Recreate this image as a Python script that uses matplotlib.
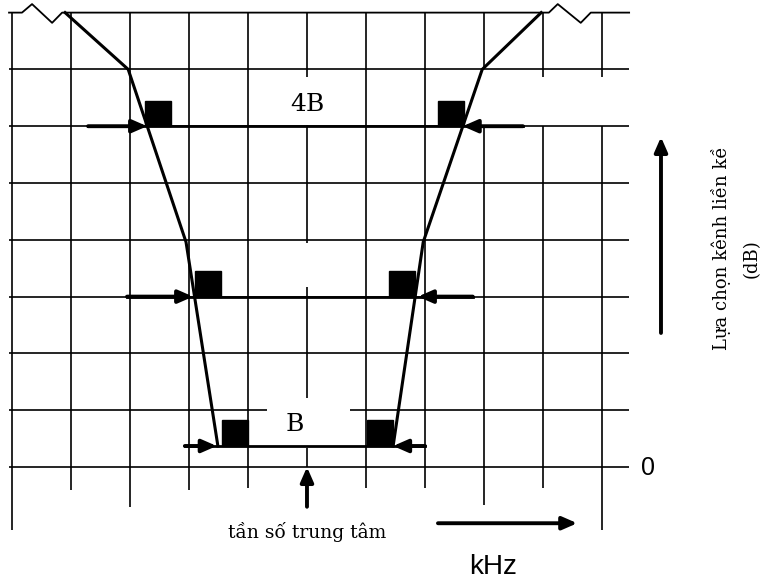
import matplotlib
matplotlib.use("Agg")
import matplotlib.pyplot as plt

# grid: columns are frequency steps from the centre, rows are attenuation steps
col_pos = [-5, -4, -3, -2, -1, 1, 2, 3, 4, 5]
col_bottom = [-1.11, -0.40, -0.70, -0.40, -0.37, -0.37, -0.37, -0.67, -0.37, -1.11]
col_top_gap = {3: (7.0, 6.0), 4: (6.87, 6.0), 5: (6.87, 6.0)}
row_pos = [0, 1, 2, 3, 4, 5, 6, 7]
centre_segments = [(8.0, 6.87), (6.02, 3.94), (3.17, 1.21), (0.33, 0.0)]

# top line with the two ripple zigzags
top_x = [-5.05, -4.83, -4.66, -4.32, -4.15, 4.10, 4.25, 4.64, 4.81, 5.46]
top_y = [8.0, 8.0, 8.15, 7.82, 8.0, 8.0, 8.15, 7.82, 8.0, 8.0]

# filter mask (left and right skirts)
mask_y = [8.0, 7.0, 3.96, 0.37]
mask_left_x = [-4.10, -3.03, -2.05, -1.51]
mask_right_x = [3.97, 2.97, 1.97, 1.46]

# measurement levels: level, left arrow tail, left tip, right tip, right arrow tail
levels = [6.0, 3.0, 0.37]
left_tail = [-3.71, -3.05, -2.07]
left_tip = [-2.71, -1.93, -1.53]
right_tip = [2.64, 1.88, 1.46]
right_tail = [3.66, 2.81, 2.00]

# black squares beside the mask (left edge of each square)
sq_left = [-2.75, -1.90, -1.44]
sq_right = [2.22, 1.39, 1.02]

fig = plt.figure(figsize=(7.62, 5.81), dpi=100)
ax = fig.add_axes([0, 0, 1, 1])
ax.set_xlim(-5.203, 7.712)
ax.set_ylim(-2.007, 8.222)
ax.axis("off")

grid_kw = dict(color="black", lw=1.2, solid_capstyle="butt")

# horizontal rows
for r in row_pos:
    if r == 1:
        ax.plot([-5.05, -0.68], [r, r], **grid_kw)
        ax.plot([0.73, 5.46], [r, r], **grid_kw)
    else:
        ax.plot([-5.05, 5.46], [r, r], **grid_kw)
ax.plot(top_x, top_y, color="black", lw=1.3)

# vertical columns
for c, b in zip(col_pos, col_bottom):
    if c in col_top_gap:
        g0, g1 = col_top_gap[c]
        ax.plot([c, c], [8, g0], **grid_kw)
        ax.plot([c, c], [g1, b], **grid_kw)
    else:
        ax.plot([c, c], [8, b], **grid_kw)
for s0, s1 in centre_segments:
    ax.plot([0, 0], [s0, s1], **grid_kw)

# mask
ax.plot(mask_left_x, mask_y, color="black", lw=2.2)
ax.plot(mask_right_x, mask_y, color="black", lw=2.2)

# measurement lines, arrows and squares
arrow_kw = dict(arrowstyle="-|>,head_length=0.8,head_width=0.35", color="black",
                lw=2.8, shrinkA=0, shrinkB=0, mutation_scale=11)
for lv, lt, lp, rp, rt, sl, sr in zip(levels, left_tail, left_tip, right_tip,
                                      right_tail, sq_left, sq_right):
    ax.plot([lt, rt], [lv, lv], color="black", lw=2.0)
    ax.annotate("", xy=(lp, lv), xytext=(lt, lv), arrowprops=arrow_kw)
    ax.annotate("", xy=(rp, lv), xytext=(rt, lv), arrowprops=arrow_kw)
    ax.add_patch(plt.Rectangle((sl, lv), 0.44, 0.45, color="black"))
    ax.add_patch(plt.Rectangle((sr, lv), 0.44, 0.45, color="black"))

# centre frequency arrow, frequency arrow, attenuation arrow
ax.annotate("", xy=(0, 0.0), xytext=(0, -0.70), arrowprops=arrow_kw)
ax.annotate("", xy=(4.58, -0.99), xytext=(2.22, -0.99), arrowprops=arrow_kw)
ax.annotate("", xy=(6.0, 5.81), xytext=(6.0, 2.36), arrowprops=arrow_kw)

serif = ["DejaVu Serif"]
sans = ["Liberation Sans", "DejaVu Sans"]
ax.text(0.0, 6.38, "4B", family=serif, fontsize=18, ha="center", va="center")
ax.text(-0.20, 0.74, "B", family=serif, fontsize=18, ha="center", va="center")
ax.text(0.0, -1.14, "tần số trung tâm", family=serif, fontsize=13.5,
        ha="center", va="center")
ax.text(7.02, 3.86, "Lựa chọn kênh liền kề", family=serif, fontsize=13,
        rotation=90, ha="center", va="center")
ax.text(7.54, 3.66, "(dB)", family=serif, fontsize=13, rotation=90,
        ha="center", va="center")
ax.text(5.78, -0.02, "0", family=sans, fontsize=18, ha="center", va="center")
ax.text(3.16, -1.76, "kHz", family=sans, fontsize=20, ha="center", va="center")

fig.savefig("out.png", dpi=100)
